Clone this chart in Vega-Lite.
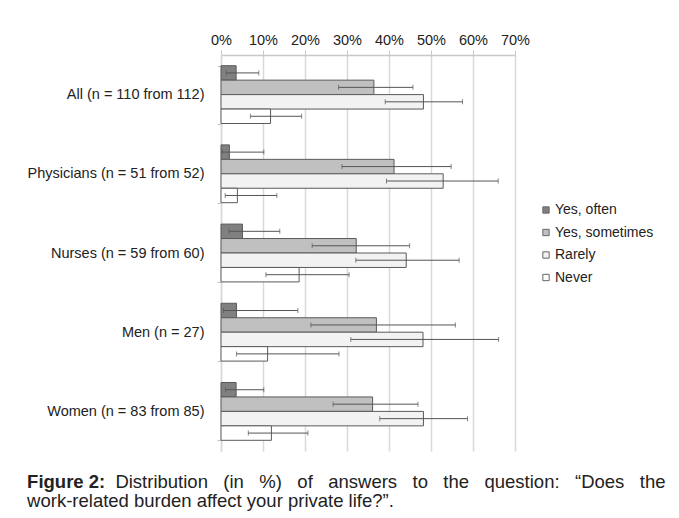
{
  "$schema": "https://vega.github.io/schema/vega-lite/v6.json",
  "width": 294,
  "height": 396,
  "padding": {"left": 27, "top": 32, "right": 5, "bottom": 5},
  "background": "white",
  "config": {
    "font": "Liberation Sans",
    "view": {"stroke": null}
  },
  "title": {
    "text": "Figure 2:",
    "subtitle": "work-related burden affect your private life?”.",
    "orient": "bottom",
    "anchor": "start",
    "frame": "bounds",
    "offset": -18,
    "font": "Liberation Sans",
    "fontSize": 18.5,
    "fontWeight": "bold",
    "color": "#222222",
    "subtitleFont": "Liberation Sans",
    "subtitleFontSize": 18.5,
    "subtitleFontWeight": "normal",
    "subtitleColor": "#222222",
    "subtitlePadding": 0.5
  },
  "resolve": {"axis": {"x": "independent"}},
  "data": {
    "values": [
      {"group": "All (n = 110 from 112)", "answer": "Yes, often", "pct": 3.6, "lo": 1.3, "hi": 9.0},
      {"group": "All (n = 110 from 112)", "answer": "Yes, sometimes", "pct": 36.4, "lo": 28.0, "hi": 45.7},
      {"group": "All (n = 110 from 112)", "answer": "Rarely", "pct": 48.2, "lo": 39.1, "hi": 57.5},
      {"group": "All (n = 110 from 112)", "answer": "Never", "pct": 11.8, "lo": 7.0, "hi": 19.2},
      {"group": "Physicians (n = 51 from 52)", "answer": "Yes, often", "pct": 2.0, "lo": 0.3, "hi": 10.2},
      {"group": "Physicians (n = 51 from 52)", "answer": "Yes, sometimes", "pct": 41.2, "lo": 28.8, "hi": 54.8},
      {"group": "Physicians (n = 51 from 52)", "answer": "Rarely", "pct": 52.9, "lo": 39.4, "hi": 66.0},
      {"group": "Physicians (n = 51 from 52)", "answer": "Never", "pct": 3.9, "lo": 1.0, "hi": 13.3},
      {"group": "Nurses (n = 59 from 60)", "answer": "Yes, often", "pct": 5.1, "lo": 1.9, "hi": 14.0},
      {"group": "Nurses (n = 59 from 60)", "answer": "Yes, sometimes", "pct": 32.2, "lo": 21.7, "hi": 44.9},
      {"group": "Nurses (n = 59 from 60)", "answer": "Rarely", "pct": 44.1, "lo": 32.1, "hi": 56.7},
      {"group": "Nurses (n = 59 from 60)", "answer": "Never", "pct": 18.6, "lo": 10.7, "hi": 30.5},
      {"group": "Men (n = 27)", "answer": "Yes, often", "pct": 3.7, "lo": 0.6, "hi": 18.3},
      {"group": "Men (n = 27)", "answer": "Yes, sometimes", "pct": 37.0, "lo": 21.4, "hi": 55.8},
      {"group": "Men (n = 27)", "answer": "Rarely", "pct": 48.1, "lo": 30.9, "hi": 66.1},
      {"group": "Men (n = 27)", "answer": "Never", "pct": 11.1, "lo": 3.7, "hi": 28.1},
      {"group": "Women (n = 83 from 85)", "answer": "Yes, often", "pct": 3.6, "lo": 1.1, "hi": 10.2},
      {"group": "Women (n = 83 from 85)", "answer": "Yes, sometimes", "pct": 36.1, "lo": 26.7, "hi": 46.9},
      {"group": "Women (n = 83 from 85)", "answer": "Rarely", "pct": 48.2, "lo": 37.8, "hi": 58.7},
      {"group": "Women (n = 83 from 85)", "answer": "Never", "pct": 12.0, "lo": 6.5, "hi": 20.7}
    ]
  },
  "encoding": {
    "y": {
      "field": "group",
      "type": "nominal",
      "sort": ["All (n = 110 from 112)", "Physicians (n = 51 from 52)", "Nurses (n = 59 from 60)", "Men (n = 27)", "Women (n = 83 from 85)"],
      "scale": {"paddingInner": 0.27, "paddingOuter": 0.135},
      "axis": {
        "title": null,
        "labelFontSize": 14.5,
        "labelColor": "#222222",
        "labelPadding": 13,
        "domain": true,
        "domainColor": "#d9d9d9",
        "domainWidth": 1.5,
        "ticks": true,
        "tickBand": "extent",
        "tickColor": "#c0c0c0",
        "tickSize": 4,
        "grid": false
      }
    },
    "yOffset": {
      "field": "answer",
      "sort": ["Yes, often", "Yes, sometimes", "Rarely", "Never"]
    }
  },
  "layer": [
    {
      "mark": {"type": "bar", "stroke": "#5a5a5a", "strokeWidth": 1},
      "encoding": {
        "x": {
          "field": "pct",
          "type": "quantitative",
          "scale": {"domain": [0, 70], "nice": false},
          "axis": {
            "orient": "top",
            "title": null,
            "values": [0, 10, 20, 30, 40, 50, 60, 70],
            "labelExpr": "datum.value + '%'",
            "labelOverlap": false,
            "labelFlush": false,
            "labelFontSize": 14.5,
            "labelColor": "#222222",
            "labelPadding": 3,
            "domainColor": "#c8c8c8",
            "domainWidth": 1.5,
            "tickColor": "#c8c8c8",
            "tickSize": 5,
            "grid": true,
            "gridColor": "#d9d9d9",
            "gridWidth": 1.5
          }
        },
        "color": {
          "field": "answer",
          "type": "nominal",
          "sort": ["Yes, often", "Yes, sometimes", "Rarely", "Never"],
          "scale": {
            "domain": ["Yes, often", "Yes, sometimes", "Rarely", "Never"],
            "range": ["#808080", "#c0c0c0", "#f2f2f2", "#ffffff"]
          },
          "legend": {
            "title": null,
            "orient": "none",
            "legendX": 318,
            "legendY": 148,
            "symbolType": "square",
            "symbolSize": 40,
            "symbolStrokeColor": "#666666",
            "symbolStrokeWidth": 1,
            "labelFontSize": 14,
            "labelColor": "#222222",
            "labelOffset": 2,
            "rowPadding": 8.5
          }
        }
      }
    },
    {
      "mark": {"type": "rule", "color": "#555555", "strokeWidth": 1},
      "encoding": {
        "x": {
          "field": "lo",
          "type": "quantitative",
          "axis": {
            "orient": "bottom",
            "title": "Distribution\u00a0\u00a0\u00a0(in\u00a0\u00a0\u00a0%)\u00a0\u00a0\u00a0of\u00a0\u00a0\u00a0answers\u00a0\u00a0\u00a0to\u00a0\u00a0\u00a0the\u00a0\u00a0\u00a0question:\u00a0\u00a0\u00a0“Does\u00a0\u00a0\u00a0the",
            "labels": false,
            "ticks": false,
            "domain": false,
            "grid": false,
            "titleFont": "Liberation Sans",
            "titleFontSize": 18.5,
            "titleFontWeight": "normal",
            "titleColor": "#222222",
            "titleAnchor": null,
            "titleAlign": "right",
            "titleBaseline": "alphabetic",
            "titleX": 444,
            "titleY": 36
          }
        },
        "x2": {"field": "hi"}
      }
    },
    {
      "mark": {"type": "tick", "color": "#555555", "thickness": 1, "size": 5},
      "encoding": {
        "x": {"field": "lo", "type": "quantitative", "axis": null}
      }
    },
    {
      "mark": {"type": "tick", "color": "#555555", "thickness": 1, "size": 5},
      "encoding": {
        "x": {"field": "hi", "type": "quantitative", "axis": null}
      }
    }
  ]
}
